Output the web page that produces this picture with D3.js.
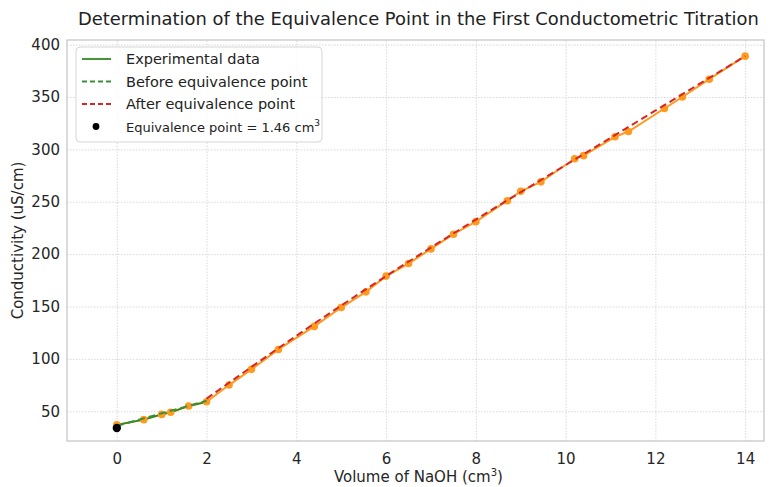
<!DOCTYPE html>
<html>
<head>
<meta charset="utf-8">
<script src="https://cdn.jsdelivr.net/npm/d3@7"></script>
<style>
  body { margin: 0; background: #fff; overflow: hidden; }
  text { font-family: "DejaVu Sans", sans-serif; }
</style>
</head>
<body>
<div id="chart"></div>
<script>
// measured volumes of NaOH (cm3) and conductivity readings (uS/cm)
let volume = [0, 0.6, 1.0, 1.2, 1.6, 2.0, 2.5, 3.0, 3.6, 4.4, 5.0, 5.55, 6.0, 6.5, 7.0, 7.5, 8.0, 8.7, 9.0, 9.45, 10.2, 10.4, 11.1, 11.4, 12.2, 12.6, 13.2, 14.0];
let conductivity = [37, 42, 47, 49, 55, 59, 75, 90, 109, 131, 149, 164, 179, 191, 205, 219, 231, 251, 260, 269, 291, 294, 312, 317, 339, 350, 367, 389];

// fitted lines before / after the equivalence point
let beforeX = [0, 2];
let beforeY = [36, 60];
let afterX = [2, 4, 6, 8, 10, 12, 14];
let afterY = [62, 122, 179, 233, 285, 337, 389];

// equivalence point marker
let eqX = [0];
let eqY = [34];

let xTicks = [0, 2, 4, 6, 8, 10, 12, 14];
let yTicks = [50, 100, 150, 200, 250, 300, 350, 400];

function drawChart() {
  let W = 778, H = 487;
  let margin = {top: 40, right: 14, bottom: 46, left: 67};
  let width = W - margin.left - margin.right,
      height = H - margin.top - margin.bottom;

  let svg = d3.select("#chart").append("svg")
    .attr("width", W).attr("height", H);

  // title
  svg.append("text")
    .attr("x", 78).attr("y", 25)
    .style("font-size", "17.9px")
    .style("fill", "#222")
    .text("Determination of the Equivalence Point in the First Conductometric Titration");

  let g = svg.append("g")
    .attr("transform", "translate(" + margin.left + "," + margin.top + ")");

  let x = d3.scaleLinear().domain([-1.11, 14.42]).range([0, width]);
  let y = d3.scaleLinear().domain([21.6, 404.4]).range([height, 0]);

  // grid + tick labels
  let xAxis = g.append("g")
    .attr("transform", "translate(0," + height + ")")
    .call(d3.axisBottom(x).tickValues(xTicks).tickSize(-height).tickPadding(12));
  let yAxis = g.append("g")
    .call(d3.axisLeft(y).tickValues(yTicks).tickSize(-width).tickPadding(7));
  [xAxis, yAxis].forEach(function(a) {
    a.select(".domain").remove();
    a.selectAll(".tick line")
      .attr("stroke", "#cfcfcf")
      .attr("stroke-width", 0.8)
      .attr("stroke-dasharray", "1.5,1.5");
    a.selectAll(".tick text")
      .style("font-size", "15px")
      .style("fill", "#262626")
      .style("font-family", "DejaVu Sans");
  });

  // frame
  g.append("rect")
    .attr("width", width).attr("height", height)
    .attr("fill", "none").attr("stroke", "#c4c4c4").attr("stroke-width", 1.2);

  let pts = volume.map(function(v, i) { return [v, conductivity[i]]; });
  let line = d3.line().x(function(d) { return x(d[0]); }).y(function(d) { return y(d[1]); });

  // orange data line
  g.append("path").datum(pts)
    .attr("d", line)
    .attr("fill", "none").attr("stroke", "#ff9a1f").attr("stroke-width", 2);

  // experimental data (green) on the first segment
  let firstPts = pts.filter(function(d) { return d[0] <= 2; });
  g.append("path").datum(firstPts)
    .attr("d", line)
    .attr("fill", "none").attr("stroke", "#2f8a1f").attr("stroke-width", 1.8);

  // dots
  g.append("g").selectAll("circle")
    .data(pts).enter().append("circle")
    .attr("cx", function(d) { return x(d[0]); })
    .attr("cy", function(d) { return y(d[1]); })
    .attr("r", 3.8)
    .attr("fill", "#ff9a1f");

  // fits
  let before = beforeX.map(function(v, i) { return [v, beforeY[i]]; });
  let after = afterX.map(function(v, i) { return [v, afterY[i]]; });
  g.append("path").datum(before)
    .attr("d", line)
    .attr("fill", "none").attr("stroke", "#3a8f3a").attr("stroke-width", 2)
    .attr("stroke-dasharray", "7,4");
  g.append("path").datum(after)
    .attr("d", d3.line().curve(d3.curveMonotoneX).x(function(d) { return x(d[0]); }).y(function(d) { return y(d[1]); }))
    .attr("fill", "none").attr("stroke", "#d62728").attr("stroke-width", 2)
    .attr("stroke-dasharray", "7,4");

  // equivalence point
  g.selectAll(".eq")
    .data(eqX).enter().append("circle")
    .attr("cx", function(d) { return x(d); })
    .attr("cy", function(d, i) { return y(eqY[i]); })
    .attr("r", 4.2)
    .attr("fill", "#000");

  // legend
  let lg = svg.append("g").attr("transform", "translate(76,47)");
  lg.append("rect")
    .attr("width", 246).attr("height", 95).attr("rx", 4)
    .attr("fill", "#fff").attr("fill-opacity", 0.85)
    .attr("stroke", "#d6d6d6");
  let items = [
    {label: "Experimental data", color: "#2f8a1f", dash: null},
    {label: "Before equivalence point", color: "#3a8f3a", dash: "5,3"},
    {label: "After equivalence point", color: "#d62728", dash: "5,3"},
    {label: "Equivalence point = 1.46 cm", color: "#000", dot: true}
  ];
  items.forEach(function(it, i) {
    let yy = 12 + i * 22.5;
    if (it.dot) {
      lg.append("circle").attr("cx", 20).attr("cy", yy).attr("r", 3.4).attr("fill", it.color);
    } else {
      lg.append("line")
        .attr("x1", 6).attr("x2", 35).attr("y1", yy).attr("y2", yy)
        .attr("stroke", it.color).attr("stroke-width", 1.8)
        .attr("stroke-dasharray", it.dash);
    }
    let t = lg.append("text")
      .attr("x", 50).attr("y", yy + 5)
      .style("font-size", i == 3 ? "13px" : "14.5px")
      .style("fill", "#222")
      .text(it.label);
    if (it.dot) {
      t.append("tspan").attr("dy", -6).style("font-size", "9px").text("3");
    }
  });

  // axis labels
  let xl = svg.append("text")
    .attr("x", margin.left + x(6.72)).attr("y", 482)
    .attr("text-anchor", "middle")
    .style("font-size", "15px").style("fill", "#262626")
    .text("Volume of NaOH (cm");
  xl.append("tspan").attr("dy", -6).style("font-size", "10px").text("3");
  xl.append("tspan").attr("dy", 6).text(")");

  svg.append("text")
    .attr("transform", "translate(23," + (margin.top + height / 2) + ") rotate(-90)")
    .attr("text-anchor", "middle")
    .style("font-size", "15px").style("fill", "#262626")
    .text("Conductivity (uS/cm)");
}

drawChart();
</script>
</body>
</html>
